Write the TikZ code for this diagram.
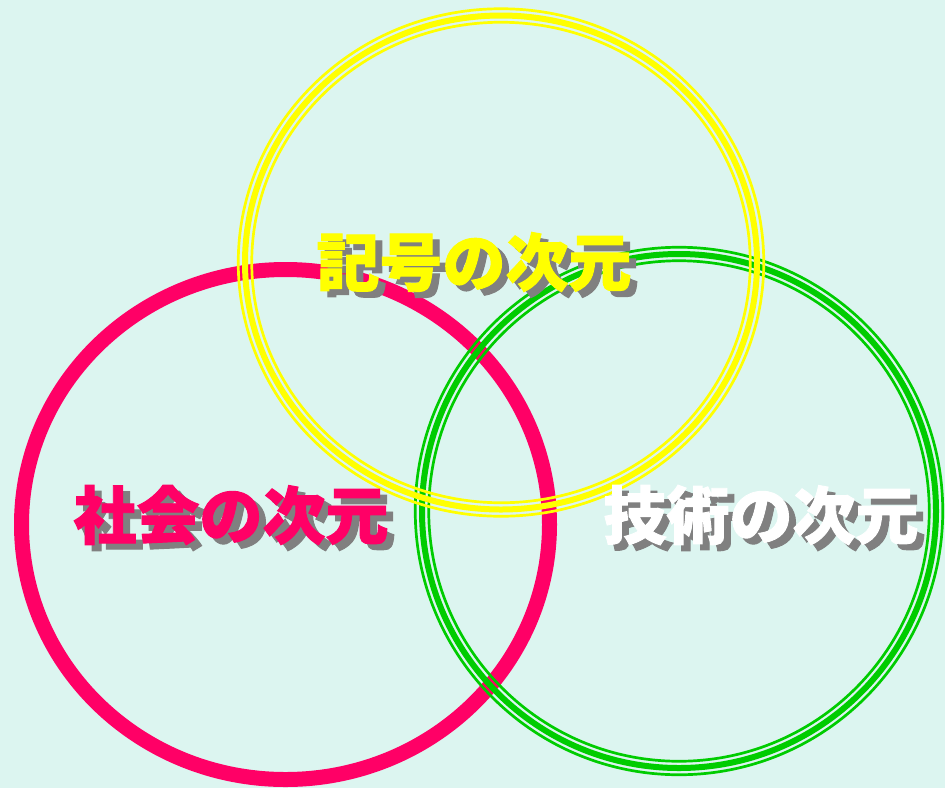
\documentclass[tikz,border=0pt]{standalone}
\usepackage{fontspec}
\newfontfamily\cjk{Noto Sans CJK JP}[BoldFeatures={FakeBold=1.5}]
\definecolor{bgc}{RGB}{220,245,240}
\definecolor{pinkc}{RGB}{255,0,102}
\definecolor{yellowc}{RGB}{255,255,0}
\definecolor{greenc}{RGB}{0,204,0}
\definecolor{shadowc}{RGB}{128,128,128}
\begin{document}
\begin{tikzpicture}[x=1pt,y=-1pt,
  lbl/.style={inner sep=0pt,anchor=center,font=\cjk\bfseries\fontsize{63}{63}\selectfont},
  shadowlbl/.style={lbl,text=shadowc},
  thinring/.style={line width=2.7pt},
  thickring/.style={line width=6pt}]
\fill[bgc] (0,0) rectangle (945,788);
\useasboundingbox (0,0) rectangle (945,788);
% pink ring (social)
\draw[pinkc,line width=15pt] (285.5,524.5) ellipse [x radius=264pt,y radius=255pt];
% green ring (technology)
\foreach \r/\st in {257/thickring,263.75/thinring,250.25/thinring}
  \draw[greenc,\st] (679,511) circle [radius=\r pt];
% yellow ring (signs)
\foreach \d/\st in {0/thickring,6.75/thinring,-6.75/thinring}
  \draw[yellowc,\st] (501,262.5) ellipse [x radius={256pt+\d pt},y radius={247pt+\d pt}];
% labels with drop shadows
\node[shadowlbl] (kigoS) at (481,268) {記号の次元};
\node[lbl,text=yellowc] (kigo) at (474,262) {記号の次元};
\node[shadowlbl] (shakaiS) at (238,521) {社会の次元};
\node[lbl,text=pinkc] (shakai) at (231,515) {社会の次元};
\node[shadowlbl] (gijutsuS) at (768,521) {技術の次元};
\node[lbl,text=white] (gijutsu) at (761,515) {技術の次元};
\end{tikzpicture}
\end{document}
